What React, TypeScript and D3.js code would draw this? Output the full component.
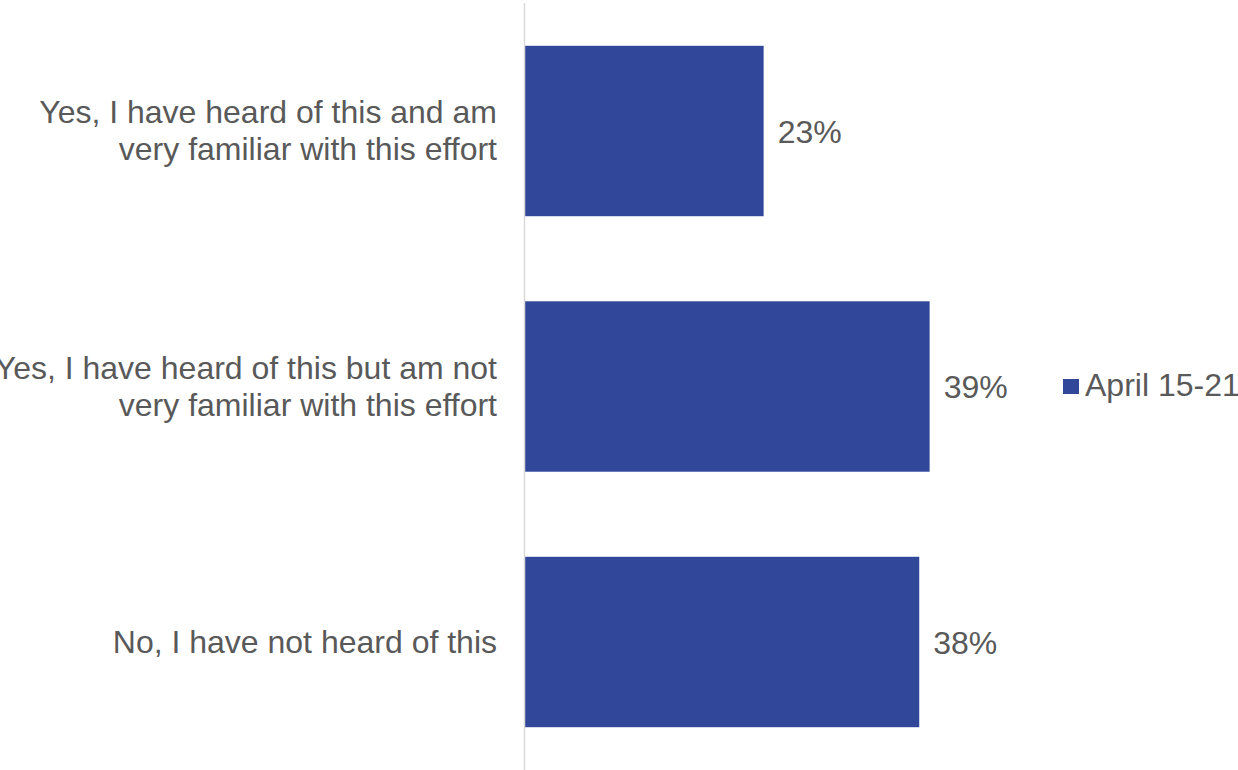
import React from "react";
import * as d3 from "d3";

const categories: string[][] = [
  ["Yes, I have heard of this and am", "very familiar with this effort"],
  ["Yes, I have heard of this but am not", "very familiar with this effort"],
  ["No, I have not heard of this"],
];
const values: number[] = [23, 39, 38];
const seriesName = "April 15-21";

const W = 1238;
const H = 770;
const BAR = "#30479A";
const TXT = "#595959";
const FONT = "'Liberation Sans', Arial, sans-serif";
const FS = 32;

export default function App() {
  const keys = categories.map((_, i) => String(i));
  const x = d3.scaleLinear().domain([0, 1]).range([525, 525 + 1037.5]);
  const y = d3.scaleBand<string>().domain(keys).range([3.25, 769.75]).paddingInner(0.333).paddingOuter(0.1665);
  const lineH = 37;
  return (
    <svg width={W} height={H} style={{ position: "absolute", left: 0, top: 0, background: "#fff" }}>
      {keys.map((k, i) => {
        const y0 = y(k)!;
        const bw = y.bandwidth();
        const cy = y0 + bw / 2;
        const lines = categories[i];
        const startY = cy - ((lines.length - 1) * lineH) / 2;
        return (
          <g key={k}>
            <rect x={x(0)} y={y0} width={x(values[i] / 100) - x(0)} height={bw} fill={BAR} />
            <text x={x(values[i] / 100) + 14} y={cy + 11.5} fill={TXT} fontFamily={FONT} fontSize={FS}>
              {values[i]}%
            </text>
            {lines.map((l, j) => (
              <text key={j} x={497} y={startY + j * lineH + 10.5} textAnchor="end" fill={TXT} fontFamily={FONT} fontSize={FS}>
                {l}
              </text>
            ))}
          </g>
        );
      })}
      <line x1={524.5} x2={524.5} y1={3} y2={770} stroke="#d9d9d9" strokeWidth={1.5} />
      <rect x={1063} y={379} width={16} height={15} fill={BAR} />
      <text x={1085} y={396} fill={TXT} fontFamily={FONT} fontSize={FS}>
        {seriesName}
      </text>
    </svg>
  );
}
